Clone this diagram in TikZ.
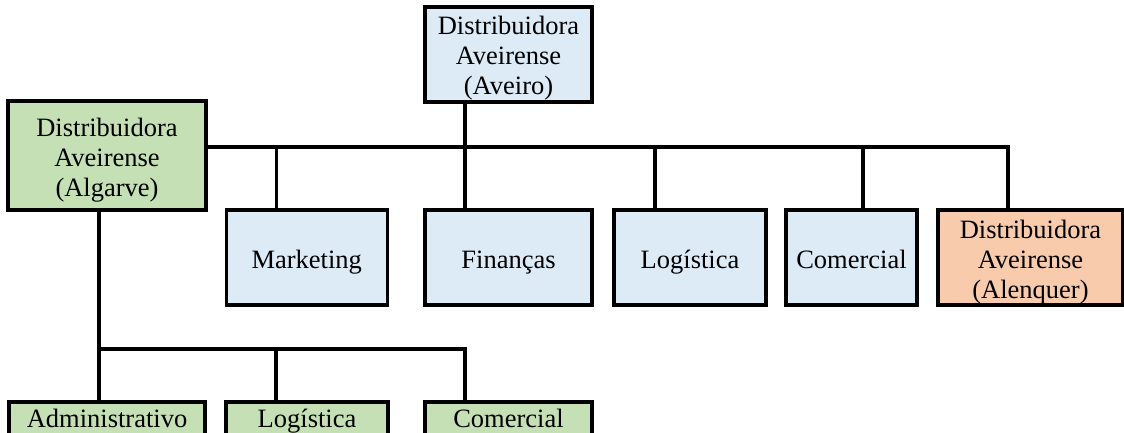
\documentclass[tikz,border=0pt]{standalone}
\usepackage{fontspec}
\setmainfont{Liberation Serif}
\definecolor{blueF}{HTML}{DDEBF7}
\definecolor{greenF}{HTML}{C5E0B4}
\definecolor{orangeF}{HTML}{F8CBAD}
\begin{document}
\begin{tikzpicture}[x=1pt,y=-1pt,
  box/.style={draw=black, line width=3.2pt, inner sep=0pt},
  txt/.style={align=center, inner sep=0pt, font=\fontsize{26.5}{30}\selectfont},
  one/.style={txt, text height=18pt, text depth=6pt},
  conn/.style={line width=3.2pt},
  bluebox/.style={box, fill=blueF},
  greenbox/.style={box, fill=greenF},
  orangebox/.style={box, fill=orangeF}]
\clip (0,0) rectangle (1124,432);
\fill[white] (0,0) rectangle (1124,432);
% boxes
\node[bluebox, minimum width=167pt, minimum height=95pt] (aveiro) at (508.5,54.5) {};
\node[greenbox, minimum width=198pt, minimum height=109pt] (algarve) at (107,155.5) {};
\node[bluebox, minimum width=161pt, minimum height=95pt] (mkt) at (306.75,257.5) {};
\node[bluebox, minimum width=167pt, minimum height=95pt] (fin) at (508.5,257.5) {};
\node[bluebox, minimum width=152pt, minimum height=95pt] (log) at (690,257.5) {};
\node[bluebox, minimum width=131pt, minimum height=95pt] (com) at (851.5,257.5) {};
\node[orangebox, minimum width=185pt, minimum height=95pt] (alen) at (1030.5,257.5) {};
\node[greenbox, minimum width=196pt, minimum height=34pt] (adm) at (107,419) {};
\node[greenbox, minimum width=162pt, minimum height=34pt] (log2) at (307,419) {};
\node[greenbox, minimum width=167pt, minimum height=34pt] (com2) at (508.5,419) {};
% texts
\node[txt] (aveiro-t) at ([yshift=-4pt]aveiro.center) {Distribuidora\\Aveirense\\(Aveiro)};
\node[txt] (algarve-t) at ([yshift=-5pt]algarve.center) {Distribuidora\\Aveirense\\(Algarve)};
\node[txt] (alen-t) at ([yshift=-5pt]alen.center) {Distribuidora\\Aveirense\\(Alenquer)};
\node[one] (mkt-t) at ([yshift=-5pt]mkt.center) {Marketing};
\node[one] (fin-t) at ([yshift=-5pt]fin.center) {Finanças};
\node[one] (log-t) at ([yshift=-5pt]log.center) {Logística};
\node[one] (com-t) at ([yshift=-5pt]com.center) {Comercial};
\node[one] (adm-t) at ([yshift=-2pt]adm.center) {Administrativo};
\node[one] (log2-t) at ([yshift=-2pt]log2.center) {Logística};
\node[one] (com2-t) at ([yshift=-2pt]com2.center) {Comercial};
% bus coordinates
\coordinate (bT) at (465,147);
\coordinate (dM) at (276.5,147);
\coordinate (dF) at (465,147);
\coordinate (dL) at (655,147);
\coordinate (dC) at (863,147);
\coordinate (dA) at (1008,147);
\coordinate (s0) at (99,349);
\coordinate (s1) at (276,349);
\coordinate (s2) at (465,349);
% connectors
\draw[conn] (aveiro.south -| bT) -- (bT);
\draw[conn] (algarve.east |- bT) -- (dA) -- (dA |- alen.north);
\draw[conn] (dM) -- (dM |- mkt.north);
\draw[conn] (dF) -- (dF |- fin.north);
\draw[conn] (dL) -- (dL |- log.north);
\draw[conn] (dC) -- (dC |- com.north);
\draw[conn] (algarve.south -| s0) -- (s0 |- adm.north);
\draw[conn] (s0) -- (s2) -- (s2 |- com2.north);
\draw[conn] (s1) -- (s1 |- log2.north);
\end{tikzpicture}
\end{document}
